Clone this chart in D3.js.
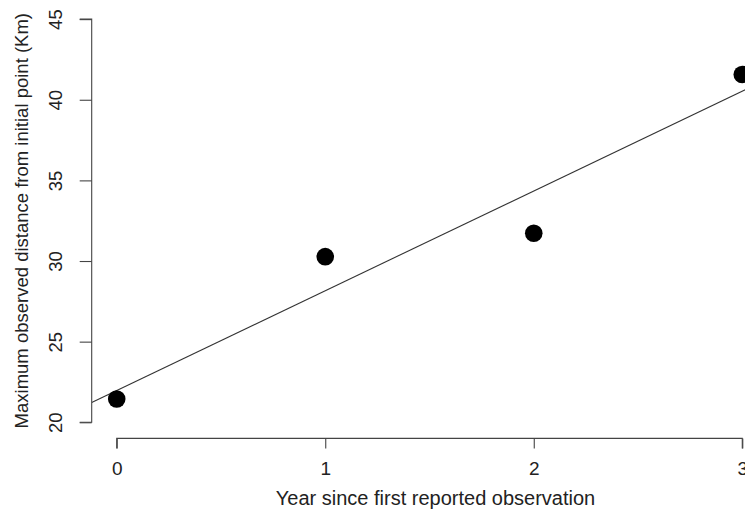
<!DOCTYPE html>
<html lang="en">
<head>
<meta charset="UTF-8" />
<title>Distance vs year</title>
<style>
  body { margin: 0; background: #fff; }
  svg { display: block; font-family: "Liberation Sans", Arial, sans-serif; }
</style>
</head>
<body>
<div id="chart"></div>
<script src="https://d3js.org/d3.v7.min.js"></script>
<script>
  const years = [0, 1, 2, 3];
  const distances = [21.44, 30.27, 31.72, 41.57];
  const xTicks = [0, 1, 2, 3];
  const yTicks = [20, 25, 30, 35, 40, 45];

  const width = 745, height = 511;

  // R style: plot region padded 4% beyond the data range
  const x = d3.scaleLinear().domain([-0.12, 3.12]).range([91.7, 767.3]);
  const y = d3.scaleLinear().domain([19, 46]).range([438.4, 3]);

  const svg = d3.select('#chart').append('svg')
    .attr('width', width)
    .attr('height', height);

  svg.append('defs').append('clipPath').attr('id', 'plotclip')
    .append('rect')
    .attr('x', x(-0.12)).attr('y', y(46))
    .attr('width', x(3.12) - x(-0.12)).attr('height', y(19) - y(46));

  // least squares fit
  const mx = d3.mean(years), my = d3.mean(distances);
  const slope = d3.sum(years, (v, i) => (v - mx) * (distances[i] - my)) /
                d3.sum(years, v => (v - mx) ** 2);
  const icpt = my - slope * mx;

  svg.append('line')
    .attr('clip-path', 'url(#plotclip)')
    .attr('x1', x(-0.12)).attr('y1', y(icpt + slope * -0.12))
    .attr('x2', x(3.12)).attr('y2', y(icpt + slope * 3.12))
    .attr('stroke', '#333')
    .attr('stroke-width', 1.1);

  svg.append('g').selectAll('circle')
    .data(years)
    .join('circle')
    .attr('cx', d => x(d))
    .attr('cy', (d, i) => y(distances[i]))
    .attr('r', 8.8)
    .attr('fill', '#000');

  const axisColor = '#444';

  // y axis on the left edge of the plot region
  const yAxis = svg.append('g')
    .attr('transform', `translate(${x(-0.12)},0)`)
    .call(d3.axisLeft(y).tickValues(yTicks).tickSize(12).tickFormat(d3.format('d')));
  yAxis.select('.domain').attr('d', `M-12,${y(20)}H0V${y(45)}H-12`);
  yAxis.selectAll('.domain, .tick line').attr('stroke', axisColor).attr('stroke-width', 1.1);
  yAxis.selectAll('.tick text')
    .attr('font-size', 18.5)
    .attr('fill', '#222')
    .attr('x', 0).attr('dy', 0)
    .attr('text-anchor', 'middle')
    .attr('transform', 'translate(-30,0) rotate(-90)')
    .attr('y', 0);

  // x axis at the bottom of the plot region
  const xAxis = svg.append('g')
    .attr('transform', `translate(0,${y(19)})`)
    .call(d3.axisBottom(x).tickValues(xTicks).tickSize(10).tickFormat(d3.format('d')));
  xAxis.select('.domain').attr('d', `M${x(0)},10V0H${x(3)}V10`);
  xAxis.selectAll('.domain, .tick line').attr('stroke', axisColor).attr('stroke-width', 1.1);
  xAxis.selectAll('.tick text')
    .attr('font-size', 19)
    .attr('fill', '#222')
    .attr('y', 23).attr('dy', '0.71em');

  svg.append('text')
    .attr('x', (x(0) + x(3)) / 2 + 6)
    .attr('y', 505)
    .attr('text-anchor', 'middle')
    .attr('font-size', 20)
    .attr('fill', '#222')
    .text('Year since first reported observation');

  svg.append('text')
    .attr('transform', `translate(28,${(y(20) + y(45)) / 2}) rotate(-90)`)
    .attr('text-anchor', 'middle')
    .attr('font-size', 18.5)
    .attr('fill', '#222')
    .text('Maximum observed distance from initial point (Km)');
</script>
</body>
</html>
